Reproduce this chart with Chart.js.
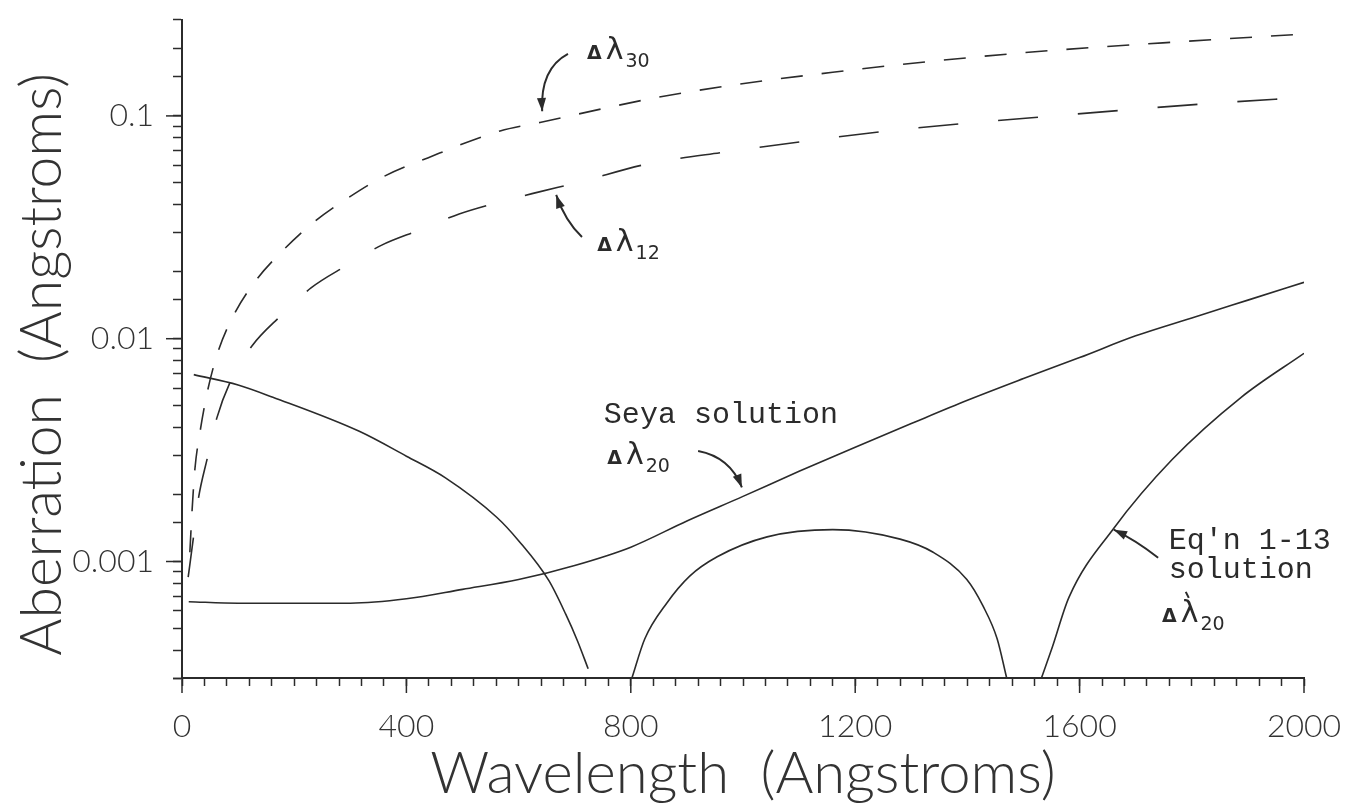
<!DOCTYPE html>
<html>
<head>
<meta charset="utf-8">
<title>Aberration vs Wavelength</title>
<script src="https://cdn.jsdelivr.net/npm/chart.js@4.4.1/dist/chart.umd.min.js"></script>
<style>
  html, body { margin: 0; padding: 0; background: #fff; }
  #wrap { width: 1358px; height: 803px; }
</style>
</head>
<body>
<div id="wrap"><canvas id="myChart" width="1358" height="803"></canvas></div>
<script>
// values: wavelength (Angstroms) -> aberration (Angstroms)
const d30Wave = [14, 18, 23, 32, 46, 64, 91, 132, 182, 237, 298, 358, 438, 567, 638, 847, 995, 1160, 1280, 1499, 1788, 2000];
const d30Aber = [0.0011, 0.0017, 0.0026, 0.0038, 0.0059, 0.0087, 0.0126, 0.0183, 0.0252, 0.0337, 0.0432, 0.0532, 0.0648, 0.0856, 0.0935, 0.121, 0.139, 0.157, 0.17, 0.192, 0.216, 0.233];

const d12Wave = [11, 20, 29, 45, 62, 86, 125, 175, 230, 292, 356, 424, 494, 565, 635, 709, 829, 971, 1114, 1258, 1405, 1553, 1695, 1838, 2000];
const d12Aber = [0.00085, 0.00126, 0.0019, 0.0029, 0.0044, 0.0064, 0.0093, 0.0126, 0.0169, 0.0212, 0.0263, 0.0308, 0.0363, 0.041, 0.0455, 0.0505, 0.0608, 0.069, 0.0772, 0.0856, 0.093, 0.1, 0.107, 0.114, 0.121];

const seyaWave = [12, 100, 200, 300, 400, 500, 600, 700, 800, 900, 1000, 1100, 1200, 1300, 1400, 1500, 1600, 1700, 1800, 1900, 2000];
const seyaAber = [0.00066, 0.00065, 0.00065, 0.00065, 0.00068, 0.00075, 0.00083, 0.00096, 0.00116, 0.00152, 0.00196, 0.00254, 0.00326, 0.00416, 0.00529, 0.00662, 0.00823, 0.0103, 0.0124, 0.0149, 0.0179];

// Eq'n 1-13 solution, three lobes (null = gap where it dips to zero)
const eqWave = [21, 100, 162, 316, 400, 469, 561, 600, 654, 684, 705, 724, 760, 802, 825, 864, 905, 954, 1043, 1160, 1280, 1339, 1399, 1428, 1453, 1470, 1500, 1532, 1551, 1581, 1661, 1765, 1888, 2000];
const eqAber = [0.0069, 0.0062, 0.00546, 0.00384, 0.00297, 0.00238, 0.00158, 0.00124, 0.00082, 0.00058, 0.00044, 0.00033, null, 0.0003, 0.00045, 0.00065, 0.00086, 0.00105, 0.00129, 0.00139, 0.00126, 0.0011, 0.00083, 0.00063, 0.00045, 0.0003, null, 0.0003, 0.00041, 0.00069, 0.00141, 0.00287, 0.00546, 0.0086];

const xTicksLabelled = [0, 400, 800, 1200, 1600, 2000];
const yTicksLabelled = [0.1, 0.01, 0.001];

const ink = '#2b2b2b';

function pts(xs, ys) {
    return xs.map((x, i) => ({ x: x, y: ys[i] }));
}

// annotation text, anchored in data units
const typed = [
    { text: 'Seya solution', w: 752, v: 0.00417 },
    { text: "Eq'n 1-13", w: 1759, v: 0.00114 },
    { text: 'solution', w: 1759, v: 0.00084 }
];
const hand = [
    { sub: '30', w: 722, v: 0.18, accent: false },
    { sub: '12', w: 740, v: 0.0247, accent: false },
    { sub: '20', w: 758, v: 0.00273, accent: false },
    { sub: '20', w: 1747, v: 0.000536, accent: true }
];
const arrows = [
    { from: [688, 0.19], ctrl: [638, 0.163], to: [642, 0.105] },
    { from: [713, 0.0286], ctrl: [683, 0.0337], to: [667, 0.0442] },
    { from: [920, 0.00313], ctrl: [977, 0.00294], to: [998, 0.00215] },
    { from: [1740, 0.00104], ctrl: [1699, 0.00125], to: [1661, 0.00139] }
];

// longer tick marks at the labelled values
const majorTicks = {
    id: 'majorTicks',
    afterDraw(chart) {
        const { ctx, scales: { x, y } } = chart;
        ctx.save();
        ctx.strokeStyle = ink;
        ctx.lineWidth = 1.5;
        xTicksLabelled.forEach(v => {
            const p = x.getPixelForValue(v);
            ctx.beginPath();
            ctx.moveTo(p, x.top);
            ctx.lineTo(p, x.top + 15);
            ctx.stroke();
        });
        yTicksLabelled.forEach(v => {
            const p = y.getPixelForValue(v);
            ctx.beginPath();
            ctx.moveTo(y.right, p);
            ctx.lineTo(y.right - 16, p);
            ctx.stroke();
        });
        ctx.restore();
    }
};

const annotate = {
    id: 'annotate',
    afterDatasetsDraw(chart) {
        const { ctx, scales: { x, y } } = chart;
        const px = w => x.getPixelForValue(w);
        const py = v => y.getPixelForValue(v);
        ctx.save();
        ctx.fillStyle = ink;
        ctx.strokeStyle = ink;
        ctx.textAlign = 'left';
        ctx.textBaseline = 'alphabetic';

        ctx.font = '30px "Liberation Mono"';
        typed.forEach(t => ctx.fillText(t.text, px(t.w), py(t.v)));

        hand.forEach(h => {
            let cx = px(h.w);
            const by = py(h.v);
            ctx.font = 'bold 19px "DejaVu Sans"';
            ctx.fillText('Δ', cx, by);
            cx += ctx.measureText('Δ').width + 4;
            ctx.font = '30px "DejaVu Sans"';
            ctx.fillText('λ', cx, by);
            if (h.accent) {
                ctx.lineWidth = 2;
                ctx.beginPath();
                ctx.moveTo(cx + 5, by - 30);
                ctx.lineTo(cx + 8, by - 24);
                ctx.stroke();
            }
            cx += ctx.measureText('λ').width + 2;
            ctx.font = '19px "DejaVu Sans"';
            ctx.fillText(h.sub, cx, by + 8);
        });

        ctx.lineWidth = 2;
        arrows.forEach(a => {
            const x0 = px(a.from[0]), y0 = py(a.from[1]);
            const xc = px(a.ctrl[0]), yc = py(a.ctrl[1]);
            const x1 = px(a.to[0]), y1 = py(a.to[1]);
            ctx.beginPath();
            ctx.moveTo(x0, y0);
            ctx.quadraticCurveTo(xc, yc, x1, y1);
            ctx.stroke();
            const ang = Math.atan2(y1 - yc, x1 - xc);
            ctx.beginPath();
            ctx.moveTo(x1, y1);
            ctx.lineTo(x1 - 14 * Math.cos(ang - 0.33), y1 - 14 * Math.sin(ang - 0.33));
            ctx.lineTo(x1 - 14 * Math.cos(ang + 0.33), y1 - 14 * Math.sin(ang + 0.33));
            ctx.closePath();
            ctx.fill();
        });
        ctx.restore();
    }
};

const lineStyle = {
    borderColor: ink,
    borderWidth: 1.6,
    pointRadius: 0,
    fill: false,
    cubicInterpolationMode: 'monotone',
    spanGaps: false
};

const ctx = document.getElementById('myChart').getContext('2d');
new Chart(ctx, {
    type: 'line',
    data: {
        datasets: [
            Object.assign({ label: 'Δλ30', data: pts(d30Wave, d30Aber), borderDash: [22, 19] }, lineStyle),
            Object.assign({ label: 'Δλ12', data: pts(d12Wave, d12Aber), borderDash: [40, 40] }, lineStyle),
            Object.assign({ label: 'Seya solution Δλ20', data: pts(seyaWave, seyaAber) }, lineStyle),
            Object.assign({ label: "Eq'n 1-13 solution Δλ'20", data: pts(eqWave, eqAber) }, lineStyle)
        ]
    },
    options: {
        responsive: false,
        animation: false,
        devicePixelRatio: 1,
        layout: { padding: { left: 0, right: 54, top: 0, bottom: 0 } },
        plugins: {
            legend: { display: false },
            tooltip: { enabled: false }
        },
        scales: {
            x: {
                type: 'linear',
                min: 0,
                max: 2000,
                border: { color: ink, width: 2 },
                grid: { display: true, drawOnChartArea: false, drawTicks: true, tickLength: 8, tickColor: ink, tickWidth: 1.5 },
                ticks: {
                    stepSize: 40,
                    autoSkip: false,
                    maxTicksLimit: 100,
                    maxRotation: 0,
                    padding: 4,
                    color: '#333',
                    // tall line box pushes the labels down without widening the side padding
                    font: { family: 'Lato', weight: 300, size: 32, lineHeight: 2.3 },
                    callback: v => (xTicksLabelled.includes(v) ? String(v) : '')
                },
                title: {
                    display: true,
                    text: 'Wavelength  (Angstroms)',
                    color: '#333',
                    font: { family: 'Lato', weight: 300, size: 58, lineHeight: 1.0 },
                    padding: { top: 0, bottom: 0 }
                },
                afterFit: s => { s.height = 125; }
            },
            y: {
                type: 'logarithmic',
                min: 0.0003,
                max: 0.27,
                border: { color: ink, width: 2 },
                grid: { display: true, drawOnChartArea: false, drawTicks: true, tickLength: 9, tickColor: ink, tickWidth: 1.5 },
                ticks: {
                    autoSkip: false,
                    padding: 19,
                    color: '#333',
                    // lineHeight ~0 so the tick labels do not push the plot top down
                    font: { family: 'Lato', weight: 300, size: 32, lineHeight: 0.05 },
                    callback: v => {
                        const hit = yTicksLabelled.find(t => Math.abs(Math.log10(v) - Math.log10(t)) < 1e-6);
                        return hit ? String(hit) : '';
                    }
                },
                title: {
                    display: true,
                    text: 'Aberration  (Angstroms)  ',
                    color: '#333',
                    font: { family: 'Lato', weight: 300, size: 57, lineHeight: 1.0 },
                    padding: { top: 14, bottom: 0 }
                },
                afterFit: s => { s.width = 182; }
            }
        }
    },
    plugins: [majorTicks, annotate]
});
</script>
</body>
</html>
